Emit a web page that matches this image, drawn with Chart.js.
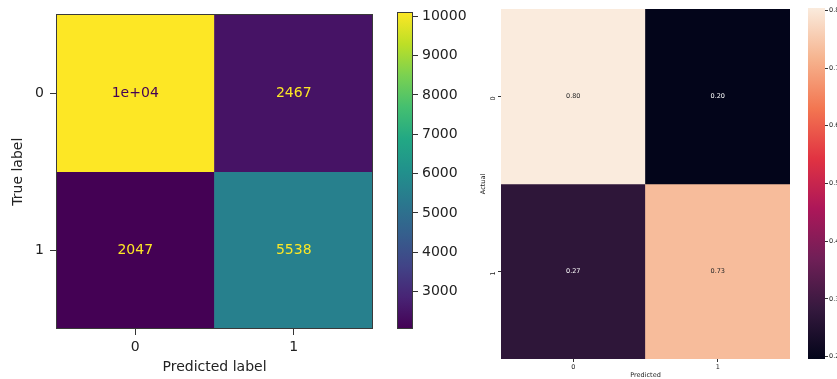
<!DOCTYPE html>
<html>
<head>
<meta charset="utf-8">
<script src="https://cdn.jsdelivr.net/npm/chart.js@4.4.1/dist/chart.umd.min.js"></script>
<style>
    body { margin: 0; background: #ffffff; }
    #wrap { position: relative; width: 837px; height: 379px; overflow: hidden; background: #ffffff; }
    canvas { position: absolute; top: 0; }
</style>
</head>
<body>
<div id="wrap">
    <canvas id="countMap" width="390" height="379" style="left:0px"></canvas>
    <canvas id="countBar" width="80" height="379" style="left:390px"></canvas>
    <canvas id="rateMap" width="330" height="379" style="left:470px"></canvas>
    <canvas id="rateBar" width="37" height="379" style="left:800px"></canvas>
</div>
<script>
// ============================================================================
// CONFUSION MATRICES (counts + row-normalised rates)
// ============================================================================

const classLabels = ['0', '1'];

// left: raw counts, rows = true label, cols = predicted label
const countRow0 = [10100, 2467];
const countRow1 = [2047, 5538];
const countBarTicks = [3000, 4000, 5000, 6000, 7000, 8000, 9000, 10000];

// right: normalised per actual class
const rateRow0 = [0.804, 0.196];
const rateRow1 = [0.270, 0.730];
const rateBarTicks = [0.2, 0.3, 0.4, 0.5, 0.6, 0.7, 0.8];

const VIRIDIS = [
    [0.0, '#440154'], [0.1, '#482475'], [0.2, '#414487'], [0.3, '#355f8d'],
    [0.4, '#2a788e'], [0.5, '#21918c'], [0.6, '#22a884'], [0.7, '#44bf70'],
    [0.8, '#7ad151'], [0.9, '#bddf26'], [1.0, '#fde725']
];
const ROCKET = [
    [0.0, '#03051a'], [0.143, '#35193e'], [0.286, '#701f57'], [0.429, '#ad1759'],
    [0.571, '#e13342'], [0.714, '#f37651'], [0.857, '#f6b48f'], [1.0, '#faebdd']
];

function hexToRgb(h) {
    return [1, 3, 5].map(i => parseInt(h.slice(i, i + 2), 16));
}

function colormap(stops, t) {
    t = Math.max(0, Math.min(1, t));
    for (let i = 1; i < stops.length; i++) {
        if (t <= stops[i][0]) {
            const [p0, c0] = stops[i - 1];
            const [p1, c1] = stops[i];
            const f = (t - p0) / (p1 - p0);
            const a = hexToRgb(c0), b = hexToRgb(c1);
            const rgb = a.map((v, k) => Math.round(v + (b[k] - v) * f));
            return `rgb(${rgb[0]}, ${rgb[1]}, ${rgb[2]})`;
        }
    }
    return stops[stops.length - 1][1];
}

function luminance(stops, t) {
    const m = colormap(stops, t).match(/\d+/g).map(Number);
    return (0.2126 * m[0] + 0.7152 * m[1] + 0.0722 * m[2]) / 255;
}

// matplotlib-ish '.2g'
function fmtCount(v) {
    if (v >= 10000) {
        const exp = Math.floor(Math.log10(v));
        const mant = Math.round(v / Math.pow(10, exp));
        return `${mant}e+${String(exp).padStart(2, '0')}`;
    }
    return String(v);
}

// draws a thin frame round the plot area
const framePlugin = {
    id: 'frame',
    afterDatasetsDraw(chart, args, opts) {
        if (!opts || !opts.show) return;
        const { ctx, chartArea: a } = chart;
        ctx.save();
        ctx.strokeStyle = opts.color || '#333';
        ctx.lineWidth = 1;
        ctx.strokeRect(Math.round(a.left) + 0.5, Math.round(a.top) + 0.5,
            Math.round(a.right - a.left) - 1, Math.round(a.bottom - a.top) - 1);
        ctx.restore();
    }
};

// writes the value in the middle of every cell
const cellTextPlugin = {
    id: 'cellText',
    afterDatasetsDraw(chart, args, opts) {
        if (!opts || !opts.rows) return;
        const { ctx } = chart;
        ctx.save();
        ctx.font = opts.font;
        ctx.textAlign = 'center';
        ctx.textBaseline = 'middle';
        opts.rows.forEach((row, r) => {
            const meta = chart.getDatasetMeta(r);
            meta.data.forEach((bar, j) => {
                const p = bar.getProps(['x', 'y', 'base'], true);
                ctx.fillStyle = opts.color(row[j]);
                ctx.fillText(opts.format(row[j]), p.x, (p.y + p.base) / 2);
            });
        });
        ctx.restore();
    }
};

function renderHeatmap(canvasId, rows, stops, cfg) {
    const all = rows.flat();
    const vmin = Math.min(...all), vmax = Math.max(...all);
    const norm = v => (v - vmin) / (vmax - vmin);

    const datasets = rows.map((row, r) => ({
        data: row.map(() => [r, r + 1]),
        backgroundColor: row.map(v => colormap(stops, norm(v))),
        borderWidth: 0,
        barPercentage: 1,
        categoryPercentage: 1,
        grouped: false
    }));

    return new Chart(document.getElementById(canvasId).getContext('2d'), {
        type: 'bar',
        data: { labels: classLabels, datasets: datasets },
        plugins: [framePlugin, cellTextPlugin],
        options: {
            responsive: false,
            animation: false,
            layout: { padding: cfg.padding },
            plugins: {
                legend: { display: false },
                tooltip: { enabled: false },
                frame: { show: cfg.frame, color: '#3a3a3a' },
                cellText: {
                    rows: rows,
                    font: cfg.cellFont,
                    format: cfg.format,
                    color: v => cfg.textColor(v, norm(v))
                }
            },
            scales: {
                x: {
                    type: 'category',
                    offset: true,
                    afterFit: s => { s.height = cfg.xHeight; },
                    grid: { offset: false, drawOnChartArea: false, tickLength: cfg.tickLength, tickColor: '#333' },
                    border: { display: false },
                    ticks: { color: '#222', font: cfg.tickFont, padding: cfg.xTickPad, maxRotation: 0 },
                    title: { display: true, text: cfg.xTitle, color: '#222', font: cfg.titleFont, padding: { top: 0, bottom: cfg.xTitlePad } }
                },
                y: {
                    type: 'linear',
                    min: 0,
                    max: rows.length,
                    reverse: true,
                    afterFit: s => { s.width = cfg.yWidth; },
                    afterBuildTicks: s => { s.ticks = classLabels.map((l, i) => ({ value: i + 0.5 })); },
                    grid: { drawOnChartArea: false, tickLength: cfg.tickLength, tickColor: '#333' },
                    border: { display: false },
                    ticks: {
                        color: '#222',
                        font: cfg.tickFont,
                        padding: cfg.yTickPad,
                        minRotation: cfg.yRot,
                        maxRotation: cfg.yRot,
                        callback: v => classLabels[Math.round(v - 0.5)]
                    },
                    title: { display: true, text: cfg.yTitle, color: '#222', font: cfg.titleFont, padding: { top: cfg.yTitlePad, bottom: 0 } }
                }
            }
        }
    });
}

function renderColorbar(canvasId, rows, stops, ticks, cfg) {
    const all = rows.flat();
    const vmin = Math.min(...all), vmax = Math.max(...all);

    return new Chart(document.getElementById(canvasId).getContext('2d'), {
        type: 'bar',
        data: {
            labels: [''],
            datasets: [{
                data: [[vmin, vmax]],
                borderWidth: 0,
                barPercentage: 1,
                categoryPercentage: 1,
                backgroundColor: context => {
                    const area = context.chart.chartArea;
                    if (!area) return null;
                    const g = context.chart.ctx.createLinearGradient(0, area.bottom, 0, area.top);
                    stops.forEach(([p, c]) => g.addColorStop(p, c));
                    return g;
                }
            }]
        },
        plugins: [framePlugin],
        options: {
            responsive: false,
            animation: false,
            layout: { padding: cfg.padding },
            plugins: {
                legend: { display: false },
                tooltip: { enabled: false },
                frame: { show: cfg.frame, color: '#3a3a3a' }
            },
            scales: {
                x: { display: false },
                y: {
                    position: 'right',
                    min: vmin,
                    max: vmax,
                    afterFit: s => { s.width = cfg.yWidth; },
                    afterBuildTicks: s => { s.ticks = ticks.map(v => ({ value: v })); },
                    grid: { drawOnChartArea: false, tickLength: cfg.tickLength, tickColor: '#333' },
                    border: { display: false },
                    ticks: {
                        color: '#222',
                        font: cfg.tickFont,
                        padding: cfg.tickPad,
                        callback: cfg.format
                    }
                }
            }
        }
    });
}

const mplFont = { family: "'DejaVu Sans', sans-serif", size: 14 };
const snsFont = { family: "'DejaVu Sans', sans-serif", size: 6.5 };

const countRows = [countRow0, countRow1];
const countMid = (Math.min(...countRows.flat()) + Math.max(...countRows.flat())) / 2;

renderHeatmap('countMap', countRows, VIRIDIS, {
    padding: { left: 0, top: 11, right: 17, bottom: 0 },
    xHeight: 50,
    yWidth: 56,
    tickLength: 6,
    xTickPad: 4,
    yTickPad: 6,
    yRot: 0,
    xTitlePad: 3,
    yTitlePad: 10,
    frame: true,
    tickFont: mplFont,
    titleFont: mplFont,
    cellFont: "14px 'DejaVu Sans', sans-serif",
    xTitle: 'Predicted label',
    yTitle: 'True label',
    format: fmtCount,
    textColor: v => (v > countMid ? '#440154' : '#fde725')
});

renderColorbar('countBar', countRows, VIRIDIS, countBarTicks, {
    padding: { left: 7, top: 11, right: 0, bottom: 50 },
    yWidth: 57,
    tickLength: 5,
    tickPad: 4,
    frame: true,
    tickFont: mplFont,
    format: v => String(v)
});

const rateRows = [rateRow0, rateRow1];

renderHeatmap('rateMap', rateRows, ROCKET, {
    padding: { left: 0, top: 8, right: 10, bottom: 0 },
    xHeight: 20,
    yWidth: 31,
    tickLength: 3,
    xTickPad: 1,
    yTickPad: 5,
    yRot: 90,
    xTitlePad: 0,
    yTitlePad: 9,
    frame: false,
    tickFont: snsFont,
    titleFont: snsFont,
    cellFont: "6.5px 'DejaVu Sans', sans-serif",
    xTitle: 'Predicted',
    yTitle: 'Actual',
    format: v => v.toFixed(2),
    textColor: (v, t) => (luminance(ROCKET, t) > 0.408 ? '#262626' : '#ffffff')
});

renderColorbar('rateBar', rateRows, ROCKET, rateBarTicks, {
    padding: { left: 8, top: 8, right: 0, bottom: 20 },
    yWidth: 12,
    tickLength: 3,
    tickPad: 1,
    frame: false,
    tickFont: snsFont,
    format: v => v.toFixed(1)
});
</script>
</body>
</html>
